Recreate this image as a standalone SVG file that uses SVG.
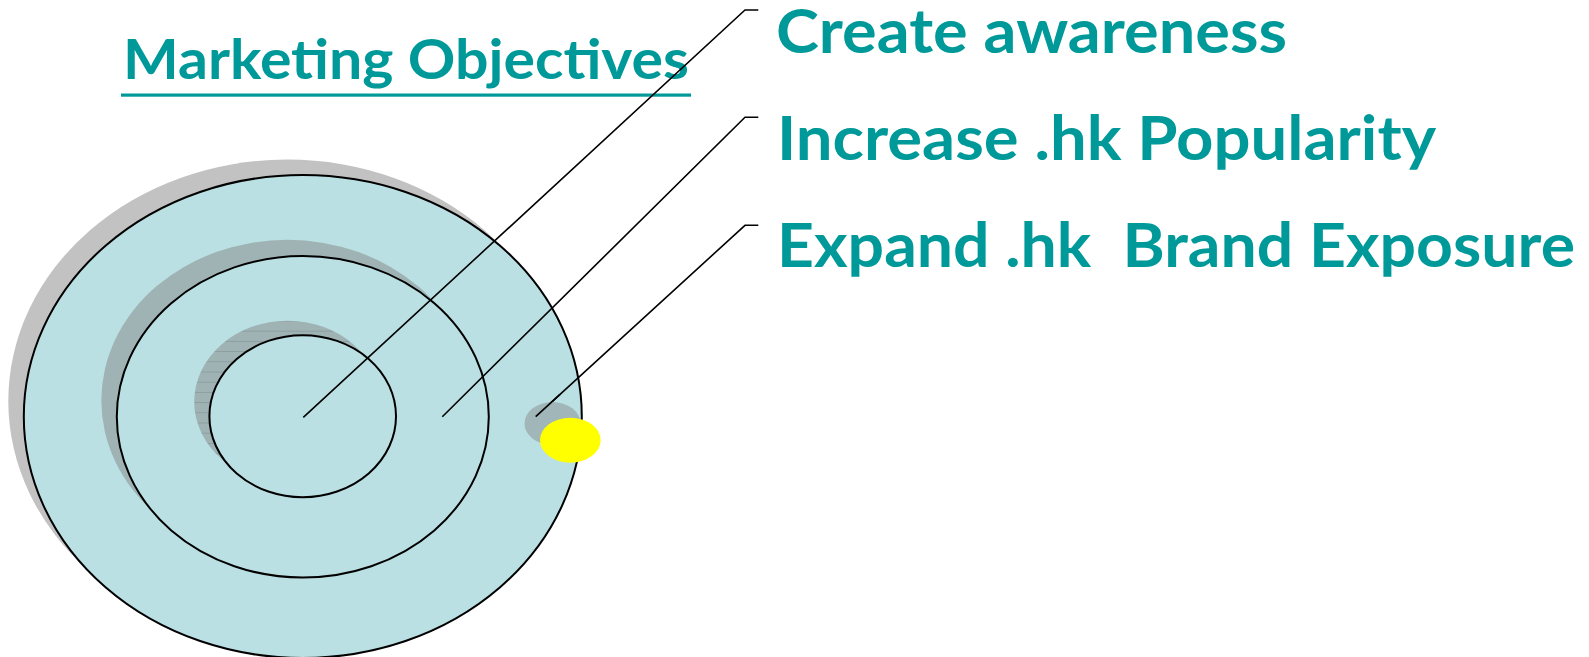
<svg xmlns="http://www.w3.org/2000/svg" width="1589" height="657" viewBox="0 0 1589 657">
<style>
.ring{fill:#bae0e3;stroke:#000;stroke-width:2}
.shadow-out{fill:#c2c2c2}
.shadow-in{fill:#9fb3b5}
.leader{fill:none;stroke:#000;stroke-width:1.6}
.label{font-family:"Lato","Liberation Sans",sans-serif;font-weight:bold;fill:#009999}
</style>
<defs>
<pattern id="hatch" patternUnits="userSpaceOnUse" x="0" y="320.5" width="20" height="10.2">
<rect width="20" height="10.2" fill="#9fb3b5"/>
<line x1="0" y1="0.5" x2="20" y2="0.5" stroke="#85979a" stroke-width="0.8"/>
</pattern>
</defs>
<rect width="1589" height="657" fill="#fff"/>
<g id="title">
<text class="label" x="123" y="78.7" font-size="55" textLength="566" lengthAdjust="spacingAndGlyphs">Marketing Objectives</text>
<rect x="121" y="93.5" width="570" height="3.2" fill="#009999"/>
</g>
<g id="outer-ring">
<ellipse class="shadow-out" cx="287.3" cy="401" rx="279" ry="241.5"/>
<ellipse class="ring" cx="302.8" cy="416.5" rx="279" ry="241.5"/>
</g>
<g id="middle-ring">
<ellipse class="shadow-in" cx="287.3" cy="400.5" rx="186" ry="160.7"/>
<ellipse class="ring" cx="302.8" cy="416.8" rx="186" ry="160.7"/>
</g>
<g id="inner-ring">
<ellipse fill="url(#hatch)" cx="287.5" cy="401.7" rx="93.3" ry="81"/>
<ellipse class="ring" cx="302.7" cy="416.2" rx="93.3" ry="81"/>
</g>
<g id="connectors">
<polyline class="leader" points="303.3,417.3 745,10 758.3,10"/>
<polyline class="leader" points="442.3,416.7 745,117.3 758.3,117.3"/>
<polyline class="leader" points="535.7,416.7 745,225.3 758.3,225.3"/>
</g>
<g id="marker-dot">
<ellipse fill="#9fb3b5" fill-opacity="0.95" cx="552.5" cy="423.5" rx="28" ry="21.5"/>
<line class="leader" x1="535.7" y1="416.7" x2="560" y2="394.4"/>
<ellipse fill="#ffff00" cx="570.3" cy="440.2" rx="30.3" ry="22.5"/>
</g>
<g id="objective-1">
<text class="label" x="776" y="53.3" font-size="61.4" textLength="511" lengthAdjust="spacingAndGlyphs">Create awareness</text>
</g>
<g id="objective-2">
<text class="label" x="777" y="160" font-size="61.4" textLength="659" lengthAdjust="spacingAndGlyphs">Increase .hk Popularity</text>
</g>
<g id="objective-3">
<text class="label" x="777" y="266.7" font-size="61.4" textLength="798" lengthAdjust="spacingAndGlyphs" xml:space="preserve">Expand .hk  Brand Exposure</text>
</g>
</svg>
